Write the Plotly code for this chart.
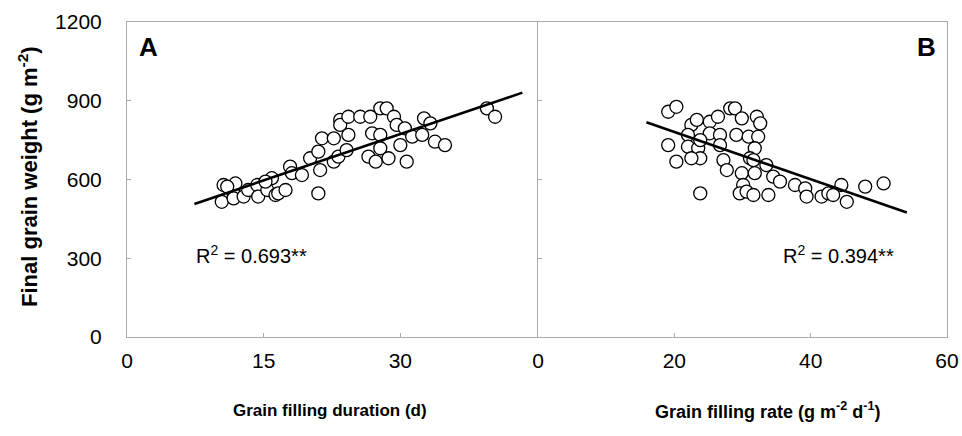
import plotly.graph_objects as go

# Panel A: grain filling duration (d) vs final grain weight (g m-2)
dur_x = [10.6, 11.7, 11.9, 10.4, 11.7, 12.8, 13.3, 14.3, 14.4, 15.4, 15.9, 16.3, 16.6, 17.4,
         17.9, 18.1, 19.2, 20.1, 21.0, 21.2, 21.0, 21.4, 22.7, 22.7, 23.2, 23.4, 23.4, 24.3,
         24.3, 24.1, 25.6, 26.7, 26.9, 26.5, 27.3, 27.8, 28.5, 27.8, 27.8, 28.7, 29.3, 29.6,
         30.0, 30.5, 30.7, 31.3, 32.4, 32.6, 33.3, 33.8, 34.9, 39.5, 40.4, 15.2, 11.0]
dur_y = [579, 547, 585, 515, 528, 535, 560, 579, 535, 560, 605, 541, 547, 560,
         649, 624, 617, 681, 706, 636, 547, 757, 757, 668, 687, 827, 808, 839,
         770, 712, 839, 839, 776, 687, 668, 871, 871, 770, 719, 681, 839, 808,
         731, 795, 668, 763, 770, 833, 814, 744, 731, 871, 839, 592, 573]
fitA_x = [7.4, 43.4]
fitA_y = [507, 931]

# Panel B: grain filling rate (g m-2 d-1) vs final grain weight (g m-2)
rate_x = [19.1, 20.3, 19.1, 20.3, 22.5, 22.0, 22.0, 23.5, 23.3, 23.8, 22.5, 25.2, 25.2, 26.4,
          26.7, 27.2, 27.7, 28.2, 28.9, 23.8, 29.1, 30.9, 32.3, 31.8, 31.1, 31.6, 33.5, 29.9,
          31.8, 30.1, 29.6, 30.6, 31.6, 33.8, 34.5, 35.5, 37.7, 39.2, 39.4, 41.6, 42.6, 43.3,
          44.5, 45.3, 48.0, 50.7, 29.9, 32.1, 32.6, 26.7, 23.8]
rate_y = [858, 877, 731, 668, 808, 770, 725, 719, 827, 681, 681, 820, 776, 839,
          770, 674, 636, 871, 871, 547, 770, 763, 763, 719, 681, 674, 655, 624,
          624, 579, 547, 554, 541, 541, 611, 592, 579, 566, 535, 535, 547, 541,
          579, 515, 573, 585, 833, 839, 814, 731, 750]
fitB_x = [15.9, 54.1]
fitB_y = [818, 474]

y_ticks = [0, 300, 600, 900, 1200]
a_ticks = [0, 15, 30]
b_ticks = [0, 20, 40, 60]

W, H = 962, 436
FONT = "Liberation Sans, Arial, sans-serif"


def px(x):
    return x / W


def py(y):
    return (H - y) / H


marker = dict(symbol="circle", size=13, color="white", line=dict(color="black", width=1.3))

fig = go.Figure()
fig.add_trace(go.Scatter(x=dur_x, y=dur_y, mode="markers", marker=marker, xaxis="x", yaxis="y",
                         showlegend=False, hoverinfo="x+y"))
fig.add_trace(go.Scatter(x=fitA_x, y=fitA_y, mode="lines", line=dict(color="black", width=2.6),
                         xaxis="x", yaxis="y", showlegend=False))
fig.add_trace(go.Scatter(x=rate_x, y=rate_y, mode="markers", marker=marker, xaxis="x2", yaxis="y2",
                         showlegend=False, hoverinfo="x+y"))
fig.add_trace(go.Scatter(x=fitB_x, y=fitB_y, mode="lines", line=dict(color="black", width=2.6),
                         xaxis="x2", yaxis="y2", showlegend=False))

ydom = [py(337), py(22)]
common_axis = dict(showgrid=False, zeroline=False, showline=True, mirror=True, automargin=False,
                   linecolor="#ababab", linewidth=1, ticks="inside", ticklen=4,
                   tickcolor="#ababab", ticklabeloverflow="allow",
                   tickfont=dict(family=FONT, size=21, color="black"))

fig.update_layout(
    width=W, height=H, margin=dict(l=0, r=0, t=0, b=0, pad=0, autoexpand=False),
    paper_bgcolor="white", plot_bgcolor="white",
    xaxis=dict(domain=[px(127), px(537)], range=[0, 45], tickvals=a_ticks, anchor="y",
               ticklabelstandoff=5, **common_axis),
    yaxis=dict(domain=ydom, range=[0, 1200], tickvals=y_ticks, anchor="x",
               ticklabelstandoff=20, **common_axis),
    xaxis2=dict(domain=[px(538), px(947)], range=[0, 60], tickvals=b_ticks, anchor="y2",
                ticklabelstandoff=5, **common_axis),
    yaxis2=dict(domain=ydom, range=[0, 1200], tickvals=y_ticks, anchor="x2",
                showticklabels=False, **common_axis),
    annotations=[
        dict(text="<b>A</b>", x=0, y=1200, xref="x", yref="y", xanchor="left", yanchor="top",
             xshift=10, yshift=-8, showarrow=False, font=dict(family=FONT, size=26, color="black")),
        dict(text="<b>B</b>", x=60, y=1200, xref="x2", yref="y2", xanchor="right", yanchor="top",
             xshift=-9, yshift=-8, showarrow=False, font=dict(family=FONT, size=26, color="black")),
        dict(text="R<sup>2</sup> = 0.693**", x=7.4, y=316, xref="x", yref="y", xanchor="left",
             yanchor="middle", showarrow=False, font=dict(family=FONT, size=20, color="black")),
        dict(text="R<sup>2</sup> = 0.394**", x=35.6, y=316, xref="x2", yref="y2", xanchor="left",
             yanchor="middle", showarrow=False, font=dict(family=FONT, size=20, color="black")),
        dict(text="<b>Final grain weight (g m<sup>-2</sup>)</b>", x=px(28), y=py(177),
             xref="paper", yref="paper", xanchor="center", yanchor="middle",
             textangle=-90, showarrow=False, font=dict(family=FONT, size=22, color="black")),
        dict(text="<b>Grain filling duration (d)</b>", x=px(330), y=py(410),
             xref="paper", yref="paper", xanchor="center", yanchor="middle", showarrow=False,
             font=dict(family=FONT, size=17, color="black")),
        dict(text="<b>Grain filling rate (g m<sup>-2</sup> d<sup>-1</sup>)</b>", x=px(767), y=py(410),
             xref="paper", yref="paper", xanchor="center", yanchor="middle", showarrow=False,
             font=dict(family=FONT, size=18, color="black")),
    ],
)

# remove the browser's default 8px body margin so the 962x436 figure fills the window exactly
fig.write_html("out.html", config={"displayModeBar": False},
               post_script="document.body.style.margin='0';document.body.style.overflow='hidden';")
